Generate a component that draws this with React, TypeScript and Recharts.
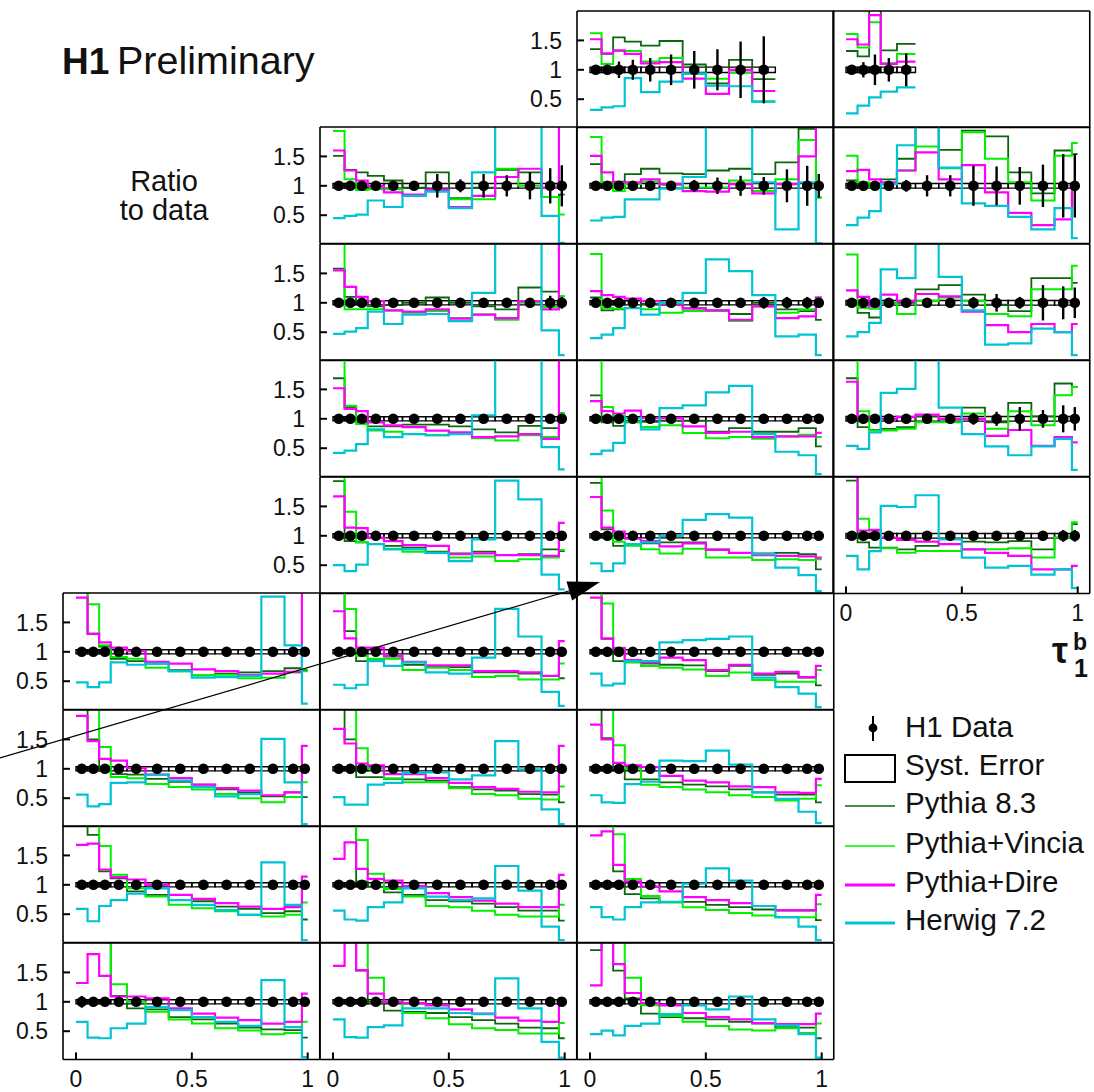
import React from 'react';
import { ComposedChart, Line, Scatter, ErrorBar, XAxis, YAxis, ReferenceArea } from 'recharts';

// tau_1^b binning shared by all panels
const BIN_EDGES = [0, 0.05, 0.1, 0.15, 0.22, 0.3, 0.4, 0.5, 0.6, 0.7, 0.8, 0.9, 0.975, 1];
const X_TICKS = [0, 0.5, 1];
const Y_TICKS = [0.5, 1, 1.5];
const X_TICK_LABELS = ['0', '0.5', '1'];
const Y_TICK_LABELS = ['0.5', '1', '1.5'];
const X_DOMAIN: [number, number] = [-0.056, 1.052];
const Y_DOMAIN: [number, number] = [0.02, 2.0];

// [row, column] of every panel in the grid
const PANEL_CELLS = [
  [0, 2], [0, 3],
  [1, 1], [1, 2], [1, 3],
  [2, 1], [2, 2], [2, 3],
  [3, 1], [3, 2], [3, 3],
  [4, 1], [4, 2], [4, 3],
  [5, 0], [5, 1], [5, 2],
  [6, 0], [6, 1], [6, 2],
  [7, 0], [7, 1], [7, 2],
  [8, 0], [8, 1], [8, 2],
];

// MC / data ratios, one array per panel (same order as PANEL_CELLS)
const PYTHIA8 = [
  [1.35, 1.27, 1.55, 1.48, 1.41, 1.49, 1.09, 0.77, 1.17, 0.84],
  [1.32, 1.23, 2.1, 1.33, 1.44],
  [1.51, 1.27, 1.23, 1.17, 1.09, 0.97, 1.23, 0.79, 0.97, 1.27, 1.23, 0.81, 0.85],
  [1.37, 1.06, 1.07, 1.2, 1.29, 1.21, 1.2, 1.26, 1.29, 1.2, 1.4, 1.97, 0.8],
  [1.09, 1.03, 1.0, 1.11, 1.46, 2.05, 1.61, 1.94, 1.84, 1.23, 0.87, 1.6, 1.54],
  [1.58, 1.1, 1.03, 0.94, 0.96, 1.0, 1.09, 1.0, 0.94, 0.89, 1.26, 1.19, 1.11],
  [1.09, 0.87, 0.89, 0.91, 0.98, 0.97, 0.91, 0.87, 0.81, 1.0, 0.89, 0.86, 0.71],
  [1.0, 0.83, 0.75, 1.0, 1.0, 1.23, 1.3, 1.14, 0.97, 0.86, 1.42, 1.42, 1.34],
  [1.69, 1.2, 0.94, 0.87, 0.87, 0.9, 0.9, 0.87, 0.82, 0.77, 0.88, 0.84, 1.09],
  [1.4, 0.94, 0.88, 0.94, 0.95, 0.97, 0.97, 0.78, 0.84, 0.78, 0.78, 0.84, 0.53],
  [1.69, 0.86, 0.81, 0.83, 0.86, 1.04, 1.0, 1.19, 0.94, 1.27, 1.04, 1.6, 1.54],
  [1.93, 0.91, 0.89, 0.86, 0.83, 0.8, 0.73, 0.7, 0.73, 0.67, 0.69, 0.77, 0.74],
  [1.9, 1.11, 0.83, 0.86, 0.87, 0.89, 0.89, 0.77, 0.71, 0.7, 0.71, 0.69, 0.43],
  [1.94, 0.89, 0.8, 0.8, 0.77, 0.83, 0.86, 0.9, 0.89, 0.91, 0.77, 0.97, 1.2],
  [2.2, 1.3, 1.09, 0.88, 0.84, 0.8, 0.69, 0.6, 0.63, 0.65, 0.67, 0.72, 0.69],
  [2.2, 1.35, 0.84, 0.88, 0.89, 0.78, 0.76, 0.74, 0.65, 0.65, 0.63, 0.59, 0.55],
  [2.2, 1.22, 0.84, 0.84, 0.8, 0.78, 0.77, 0.67, 0.76, 0.61, 0.63, 0.56, 0.43],
  [2.2, 1.5, 0.97, 0.91, 0.9, 0.83, 0.78, 0.73, 0.65, 0.6, 0.53, 0.6, 0.52],
  [2.3, 1.5, 0.86, 0.86, 0.83, 0.82, 0.8, 0.69, 0.65, 0.63, 0.57, 0.56, 0.43],
  [2.2, 1.52, 1.0, 0.82, 0.82, 0.77, 0.73, 0.7, 0.65, 0.6, 0.56, 0.56, 0.43],
  [2.2, 1.85, 1.23, 1.11, 0.89, 0.83, 0.74, 0.72, 0.63, 0.59, 0.52, 0.55, 0.41],
  [2.2, 2.1, 1.06, 0.97, 0.87, 0.83, 0.74, 0.72, 0.68, 0.62, 0.56, 0.56, 0.39],
  [2.2, 2.1, 1.23, 0.84, 0.77, 0.71, 0.71, 0.66, 0.62, 0.58, 0.56, 0.56, 0.4],
  [2.2, 2.2, 2.1, 1.1, 0.89, 0.87, 0.74, 0.7, 0.63, 0.56, 0.53, 0.52, 0.39],
  [2.2, 2.2, 1.53, 1.0, 0.85, 0.83, 0.81, 0.74, 0.69, 0.63, 0.56, 0.55, 0.38],
  [1.88, 2.2, 1.53, 1.06, 0.8, 0.74, 0.72, 0.7, 0.66, 0.63, 0.57, 0.56, 0.38],
];

const VINCIA = [
  [1.62, 1.1, 1.32, 1.32, 1.14, 1.2, 0.93, 0.85, 0.95, 0.46],
  [1.61, 1.38, 1.81, 1.11, 1.27],
  [1.93, 1.11, 0.93, 0.94, 0.94, 0.83, 0.91, 0.77, 0.77, 1.29, 1.0, 0.81, 0.51],
  [1.83, 1.06, 0.91, 1.03, 1.07, 1.02, 0.97, 0.97, 1.09, 0.91, 1.11, 1.78, 0.8],
  [1.51, 1.06, 0.97, 1.03, 1.26, 1.67, 1.3, 1.91, 1.46, 1.06, 0.75, 1.51, 1.73],
  [2.2, 0.89, 0.89, 0.89, 0.87, 0.83, 0.86, 0.74, 0.8, 0.71, 1.0, 0.93, 1.11],
  [1.83, 0.91, 0.9, 0.91, 0.89, 0.83, 0.86, 0.86, 0.69, 0.94, 0.83, 0.89, 1.09],
  [1.82, 0.91, 0.9, 1.0, 0.81, 1.03, 1.09, 1.03, 0.81, 0.77, 1.23, 1.23, 1.63],
  [2.2, 1.22, 0.91, 0.8, 0.78, 0.74, 0.72, 0.74, 0.67, 0.63, 0.72, 0.69, 1.1],
  [2.3, 1.2, 1.05, 0.95, 0.86, 0.89, 0.76, 0.67, 0.69, 0.66, 0.7, 0.73, 0.69],
  [2.3, 1.13, 0.8, 0.8, 0.83, 0.94, 0.94, 1.09, 0.83, 1.13, 0.89, 1.4, 1.54],
  [2.3, 1.41, 0.89, 0.86, 0.78, 0.73, 0.71, 0.63, 0.65, 0.57, 0.6, 0.63, 0.76],
  [2.3, 1.43, 0.9, 0.83, 0.77, 0.7, 0.78, 0.63, 0.63, 0.59, 0.6, 0.59, 0.6],
  [2.3, 1.29, 1.09, 0.79, 0.71, 0.74, 0.74, 0.77, 0.77, 0.79, 0.63, 0.97, 1.23],
  [2.4, 1.81, 1.11, 0.91, 0.88, 0.73, 0.67, 0.6, 0.61, 0.55, 0.56, 0.65, 0.67],
  [2.4, 1.73, 0.93, 0.88, 0.88, 0.69, 0.73, 0.69, 0.57, 0.59, 0.53, 0.53, 0.8],
  [2.4, 1.82, 1.07, 0.82, 0.76, 0.73, 0.7, 0.59, 0.65, 0.52, 0.49, 0.49, 0.69],
  [2.4, 2.3, 1.37, 0.86, 0.84, 0.74, 0.69, 0.65, 0.57, 0.5, 0.43, 0.52, 0.77],
  [2.4, 2.3, 1.35, 1.0, 0.84, 0.77, 0.77, 0.67, 0.57, 0.55, 0.49, 0.48, 0.7],
  [2.4, 2.3, 1.4, 1.0, 0.73, 0.69, 0.65, 0.6, 0.55, 0.52, 0.46, 0.49, 0.72],
  [2.4, 2.2, 1.66, 1.17, 0.94, 0.8, 0.66, 0.6, 0.55, 0.49, 0.46, 0.49, 0.7],
  [2.4, 2.2, 1.76, 1.19, 0.93, 0.8, 0.64, 0.62, 0.56, 0.49, 0.46, 0.46, 0.66],
  [2.4, 2.3, 1.86, 1.1, 0.81, 0.7, 0.62, 0.57, 0.52, 0.48, 0.45, 0.45, 0.67],
  [2.3, 2.3, 2.3, 1.3, 1.0, 0.83, 0.7, 0.63, 0.55, 0.51, 0.45, 0.47, 0.66],
  [2.3, 2.3, 2.3, 1.41, 1.0, 0.81, 0.72, 0.62, 0.55, 0.52, 0.46, 0.46, 0.64],
  [2.3, 2.3, 2.3, 1.41, 0.94, 0.76, 0.66, 0.59, 0.53, 0.51, 0.55, 0.47, 0.63],
];

const DIRE = [
  [1.52, 1.28, 1.33, 1.27, 1.11, 1.13, 0.85, 0.59, 1.0, 0.64],
  [1.52, 1.43, 1.93, 1.1, 1.14],
  [1.6, 1.26, 1.09, 1.0, 0.89, 0.85, 0.93, 0.64, 0.83, 1.15, 1.29, 0.97, 2.5],
  [1.51, 1.23, 1.06, 1.06, 1.11, 1.03, 0.91, 0.9, 1.03, 0.87, 1.03, 1.5, 2.3],
  [1.25, 1.27, 1.11, 1.06, 1.26, 1.57, 1.11, 1.35, 0.89, 0.54, 0.33, 0.43, 0.97],
  [1.55, 1.27, 1.1, 1.03, 0.87, 0.85, 0.89, 0.73, 0.8, 0.74, 1.03, 0.89, 2.4],
  [1.2, 1.13, 1.1, 1.07, 1.03, 0.98, 0.9, 0.87, 0.71, 0.94, 0.74, 0.77, 1.09],
  [1.21, 1.1, 0.94, 1.14, 1.03, 1.15, 1.11, 0.85, 0.62, 0.5, 0.64, 0.5, 0.64],
  [1.52, 1.17, 1.13, 0.94, 0.89, 0.86, 0.8, 0.77, 0.69, 0.7, 0.74, 0.66, 2.4],
  [1.3, 1.13, 1.09, 1.14, 1.01, 1.01, 0.87, 0.76, 0.78, 0.69, 0.7, 0.7, 0.76],
  [1.63, 1.03, 1.03, 1.0, 1.03, 1.07, 1.0, 1.0, 0.71, 0.81, 0.54, 0.69, 0.6],
  [1.67, 1.14, 1.13, 0.97, 0.91, 0.84, 0.83, 0.69, 0.7, 0.67, 0.67, 0.66, 1.22],
  [1.66, 1.14, 1.07, 0.95, 0.91, 0.82, 0.87, 0.76, 0.71, 0.67, 0.66, 0.65, 0.63],
  [2.3, 1.09, 1.1, 0.97, 0.93, 0.9, 0.86, 0.77, 0.71, 0.66, 0.43, 0.43, 0.49],
  [1.92, 1.31, 1.16, 1.07, 1.01, 0.83, 0.8, 0.7, 0.67, 0.61, 0.63, 0.66, 2.4],
  [1.69, 1.23, 1.07, 1.07, 0.93, 0.83, 0.77, 0.77, 0.67, 0.67, 0.65, 0.59, 1.18],
  [1.92, 1.23, 1.06, 0.86, 0.82, 0.9, 0.86, 0.69, 0.78, 0.63, 0.66, 0.57, 0.76],
  [1.9, 1.47, 1.17, 1.14, 1.01, 0.9, 0.84, 0.73, 0.67, 0.63, 0.55, 0.6, 1.39],
  [1.68, 1.43, 1.09, 1.06, 0.91, 0.91, 0.84, 0.76, 0.69, 0.66, 0.61, 0.6, 1.39],
  [1.75, 1.5, 1.1, 1.06, 1.03, 0.88, 0.8, 0.77, 0.7, 0.69, 0.6, 0.59, 0.83],
  [1.68, 1.7, 1.26, 1.13, 1.09, 1.0, 0.83, 0.76, 0.69, 0.63, 0.59, 0.62, 1.14],
  [1.44, 1.72, 1.27, 1.1, 1.07, 0.98, 0.86, 0.79, 0.73, 0.68, 0.62, 0.62, 1.17],
  [1.84, 1.91, 1.34, 1.06, 0.97, 0.89, 0.79, 0.74, 0.69, 0.64, 0.57, 0.57, 0.83],
  [1.32, 1.81, 1.44, 1.09, 1.09, 1.06, 0.89, 0.8, 0.73, 0.69, 0.63, 0.66, 1.14],
  [1.61, 2.2, 1.54, 1.14, 1.0, 0.98, 0.94, 0.87, 0.8, 0.73, 0.68, 0.66, 1.06],
  [1.28, 2.2, 1.64, 1.15, 0.98, 0.94, 0.81, 0.74, 0.7, 0.64, 0.62, 0.62, 0.8],
];

const HERWIG = [
  [0.32, 0.36, 0.38, 0.86, 0.62, 0.8, 0.94, 0.73, 0.72, 0.46],
  [0.26, 0.39, 0.53, 0.63, 0.7],
  [0.45, 0.49, 0.51, 0.75, 0.64, 0.83, 0.9, 0.62, 1.23, 2.6, 2.6, 0.49, 0.03],
  [0.41, 0.46, 0.47, 0.77, 0.77, 0.95, 1.15, 2.4, 2.4, 1.06, 0.26, 1.06, 0.02],
  [0.33, 0.46, 0.57, 1.03, 1.69, 2.3, 1.31, 0.7, 0.66, 0.47, 0.26, 0.62, 0.11],
  [0.47, 0.51, 0.57, 0.85, 0.64, 0.8, 0.81, 0.69, 1.17, 2.4, 2.4, 0.53, 0.11],
  [0.4, 0.46, 0.57, 0.91, 0.8, 1.0, 1.17, 1.74, 1.54, 1.13, 0.43, 0.46, 0.11],
  [0.43, 0.5, 0.66, 1.57, 1.42, 2.3, 1.44, 0.87, 0.29, 0.31, 0.56, 0.5, 0.11],
  [0.42, 0.46, 0.57, 0.82, 0.69, 0.74, 0.72, 0.74, 1.06, 2.4, 2.4, 0.52, 0.14],
  [0.4, 0.46, 0.59, 1.01, 0.82, 1.18, 1.23, 1.45, 1.56, 0.74, 0.44, 0.38, 0.06],
  [0.54, 0.49, 0.77, 1.44, 1.51, 2.1, 1.19, 0.74, 0.53, 0.38, 0.53, 0.66, 0.13],
  [0.5, 0.4, 0.51, 0.86, 0.77, 0.77, 0.71, 0.57, 0.94, 1.94, 1.62, 0.34, 0.09],
  [0.53, 0.4, 0.53, 0.86, 0.89, 1.0, 1.27, 1.37, 1.31, 0.69, 0.46, 0.33, 0.06],
  [0.66, 0.43, 0.74, 1.51, 1.49, 1.69, 0.94, 0.63, 0.46, 0.49, 0.34, 0.43, 0.11],
  [0.48, 0.4, 0.48, 0.82, 0.78, 0.8, 0.67, 0.56, 0.57, 0.59, 1.94, 1.11, 0.12],
  [0.44, 0.38, 0.44, 0.84, 0.76, 0.82, 0.65, 0.63, 0.9, 1.73, 1.26, 0.32, 0.08],
  [0.63, 0.43, 0.46, 0.84, 0.84, 1.16, 1.2, 1.22, 1.26, 0.56, 0.4, 0.29, 0.06],
  [0.56, 0.36, 0.4, 0.76, 0.77, 0.9, 0.8, 0.69, 0.53, 0.57, 1.51, 0.77, 0.06],
  [0.52, 0.39, 0.39, 0.73, 0.76, 0.93, 0.94, 0.82, 0.89, 1.47, 0.99, 0.31, 0.06],
  [0.55, 0.43, 0.42, 0.74, 0.78, 1.14, 1.13, 1.31, 1.07, 0.6, 0.49, 0.27, 0.08],
  [0.59, 0.38, 0.64, 0.74, 0.85, 0.94, 0.74, 0.66, 0.57, 0.49, 1.38, 0.66, 0.06],
  [0.56, 0.41, 0.39, 0.62, 0.7, 0.94, 0.8, 0.74, 0.77, 1.32, 0.9, 0.29, 0.06],
  [0.62, 0.45, 0.41, 0.62, 0.7, 0.71, 1.02, 1.28, 1.07, 0.64, 0.45, 0.29, 0.06],
  [0.66, 0.39, 0.38, 0.55, 0.63, 0.91, 0.86, 0.74, 0.66, 0.59, 1.37, 0.57, 0.06],
  [0.7, 0.4, 0.39, 0.57, 0.6, 0.89, 0.89, 0.81, 0.79, 1.4, 0.89, 0.32, 0.05],
  [0.45, 0.51, 0.43, 0.59, 0.63, 0.79, 0.94, 0.87, 1.09, 0.7, 0.6, 0.45, 0.05],
];

// statistical uncertainty of the data (half length of the error bar)
const STAT_ERR = [
  [0.02, 0.04, 0.14, 0.17, 0.2, 0.26, 0.32, 0.35, 0.48, 0.57],
  [0.03, 0.13, 0.26, 0.2, 0.28],
  [0.02, 0.02, 0.02, 0.03, 0.04, 0.05, 0.2, 0.11, 0.2, 0.18, 0.23, 0.3, 0.35],
  [0.02, 0.02, 0.02, 0.02, 0.03, 0.05, 0.1, 0.14, 0.17, 0.15, 0.28, 0.34, 0.2],
  [0.03, 0.03, 0.03, 0.04, 0.1, 0.18, 0.18, 0.34, 0.33, 0.32, 0.36, 0.54, 0.54],
  [0.02, 0.02, 0.02, 0.02, 0.03, 0.03, 0.04, 0.05, 0.06, 0.07, 0.08, 0.12, 0.1],
  [0.02, 0.02, 0.02, 0.02, 0.03, 0.03, 0.04, 0.05, 0.06, 0.1, 0.1, 0.1, 0.06],
  [0.03, 0.03, 0.03, 0.04, 0.05, 0.05, 0.06, 0.1, 0.15, 0.1, 0.3, 0.28, 0.26],
  [0.02, 0.02, 0.02, 0.02, 0.02, 0.03, 0.03, 0.03, 0.04, 0.04, 0.05, 0.06, 0.05],
  [0.02, 0.02, 0.02, 0.02, 0.02, 0.03, 0.03, 0.03, 0.04, 0.06, 0.06, 0.08, 0.04],
  [0.05, 0.03, 0.03, 0.03, 0.04, 0.04, 0.05, 0.1, 0.12, 0.2, 0.15, 0.23, 0.2],
  [0.02, 0.02, 0.02, 0.02, 0.02, 0.02, 0.02, 0.02, 0.03, 0.03, 0.03, 0.04, 0.03],
  [0.02, 0.02, 0.02, 0.02, 0.02, 0.02, 0.02, 0.02, 0.03, 0.03, 0.04, 0.06, 0.03],
  [0.05, 0.03, 0.03, 0.03, 0.03, 0.03, 0.04, 0.08, 0.06, 0.07, 0.06, 0.1, 0.1],
  [0.03, 0.02, 0.02, 0.02, 0.02, 0.02, 0.02, 0.02, 0.02, 0.02, 0.02, 0.03, 0.03],
  [0.03, 0.02, 0.02, 0.02, 0.02, 0.02, 0.02, 0.02, 0.02, 0.02, 0.02, 0.03, 0.03],
  [0.03, 0.02, 0.02, 0.02, 0.02, 0.02, 0.02, 0.02, 0.02, 0.02, 0.02, 0.03, 0.03],
  [0.03, 0.02, 0.02, 0.02, 0.02, 0.02, 0.02, 0.02, 0.02, 0.02, 0.02, 0.03, 0.03],
  [0.03, 0.02, 0.02, 0.02, 0.02, 0.02, 0.02, 0.02, 0.02, 0.02, 0.02, 0.03, 0.03],
  [0.03, 0.02, 0.02, 0.02, 0.02, 0.02, 0.02, 0.02, 0.02, 0.02, 0.02, 0.03, 0.03],
  [0.04, 0.02, 0.02, 0.02, 0.02, 0.02, 0.02, 0.02, 0.02, 0.02, 0.02, 0.03, 0.03],
  [0.04, 0.02, 0.02, 0.02, 0.02, 0.02, 0.02, 0.02, 0.02, 0.02, 0.02, 0.03, 0.03],
  [0.06, 0.02, 0.02, 0.02, 0.02, 0.02, 0.02, 0.02, 0.02, 0.02, 0.02, 0.03, 0.03],
  [0.1, 0.03, 0.02, 0.02, 0.02, 0.02, 0.02, 0.02, 0.02, 0.02, 0.02, 0.03, 0.03],
  [0.05, 0.02, 0.02, 0.02, 0.02, 0.02, 0.02, 0.02, 0.02, 0.02, 0.02, 0.03, 0.03],
  [0.07, 0.02, 0.02, 0.02, 0.02, 0.02, 0.02, 0.02, 0.02, 0.02, 0.02, 0.03, 0.03],
];

// half height of the systematic-error box, per panel
const SYST_ERR = [
  0.045, 0.045, 0.04, 0.04, 0.04, 0.035, 0.035, 0.04, 0.035, 0.035, 0.04, 0.035, 0.035,
  0.04, 0.035, 0.035, 0.035, 0.035, 0.035, 0.035, 0.035, 0.035, 0.035, 0.035, 0.035, 0.035,
];

const SERIES = [
  { key: 'p8', name: 'Pythia 8.3', color: '#0c660c', width: 1.8, values: PYTHIA8 },
  { key: 'vin', name: 'Pythia+Vincia', color: '#00f000', width: 2, values: VINCIA },
  { key: 'dire', name: 'Pythia+Dire', color: '#ff00ff', width: 2.2, values: DIRE },
  { key: 'hw', name: 'Herwig 7.2', color: '#00c4d4', width: 2.2, values: HERWIG },
];

const FONT = '"Liberation Sans", Arial, Helvetica, sans-serif';

// panel geometry
const PW = 256.75;
const PH = 116.44;
const GRID_X = 63;
const GRID_Y = 11;
const ML = 60;
const MR = 4;
const MT = 4;
const MB = 40;

const AXIS_LINE = { stroke: '#000', strokeWidth: 1.6 };
const TICK_LINE = { stroke: '#000', strokeWidth: 2 };

const DataDot = (p: any) => <circle cx={p.cx} cy={p.cy} r={5.3} fill="#000" />;

function RatioPanel({ index }: { index: number }) {
  const [row, col] = PANEL_CELLS[index];
  const nBins = PYTHIA8[index].length;
  const edges = BIN_EDGES.slice(0, nBins + 1);

  const steps = edges.map((x, i) => {
    const k = Math.min(i, nBins - 1);
    const pt: Record<string, number> = { x };
    SERIES.forEach((s) => {
      pt[s.key] = s.values[index][k];
    });
    return pt;
  });

  const points = edges.slice(0, nBins).map((lo, i) => ({
    x: (lo + edges[i + 1]) / 2,
    y: 1,
    err: STAT_ERR[index][i],
  }));
  const syst = SYST_ERR[index];

  const showY = col === (row === 0 ? 2 : row <= 4 ? 1 : 0);
  const showX = row === (col === 3 ? 4 : 8);

  const yLabel = (p: any) => (
    <text x={ML - 15} y={p.y} dy="0.36em" textAnchor="end" fontSize={23} fontFamily={FONT} fill="#111">
      {Y_TICK_LABELS[Y_TICKS.indexOf(p.payload.value)]}
    </text>
  );
  const xLabel = (p: any) => (
    <text x={p.x} y={MT + PH + 28} textAnchor="middle" fontSize={23} fontFamily={FONT} fill="#111">
      {X_TICK_LABELS[X_TICKS.indexOf(p.payload.value)]}
    </text>
  );

  return (
    <div style={{ position: 'absolute', left: GRID_X + col * PW - ML, top: GRID_Y + row * PH - MT }}>
      <ComposedChart
        width={ML + PW + MR}
        height={MT + PH + MB}
        margin={{ top: MT, right: MR, bottom: MB, left: ML }}
      >
        <XAxis
          xAxisId="b"
          dataKey="x"
          type="number"
          orientation="bottom"
          mirror
          domain={X_DOMAIN}
          allowDataOverflow
          ticks={X_TICKS}
          tickSize={7}
          tickMargin={0}
          axisLine={AXIS_LINE}
          tickLine={TICK_LINE}
          tick={showX ? xLabel : false}
        />
        <XAxis
          xAxisId="t"
          dataKey="x"
          type="number"
          orientation="top"
          mirror
          domain={X_DOMAIN}
          allowDataOverflow
          ticks={X_TICKS}
          tickSize={7}
          axisLine={AXIS_LINE}
          tickLine={TICK_LINE}
          tick={false}
        />
        <YAxis
          yAxisId="l"
          dataKey="y"
          type="number"
          orientation="left"
          mirror
          domain={Y_DOMAIN}
          allowDataOverflow
          ticks={Y_TICKS}
          tickSize={7}
          tickMargin={0}
          axisLine={AXIS_LINE}
          tickLine={TICK_LINE}
          tick={showY ? yLabel : false}
        />
        <YAxis
          yAxisId="r"
          dataKey="y"
          type="number"
          orientation="right"
          mirror
          domain={Y_DOMAIN}
          allowDataOverflow
          ticks={Y_TICKS}
          tickSize={7}
          axisLine={AXIS_LINE}
          tickLine={TICK_LINE}
          tick={false}
        />
        {edges.slice(0, nBins).map((lo, i) => (
          <ReferenceArea
            key={`syst-${i}`}
            xAxisId="b"
            yAxisId="l"
            x1={lo}
            x2={edges[i + 1]}
            y1={1 - syst}
            y2={1 + syst}
            fill="#fff"
            fillOpacity={0}
            stroke="#000"
            strokeWidth={1.4}
          />
        ))}
        {SERIES.map((s) => (
          <Line
            key={s.key}
            xAxisId="b"
            yAxisId="l"
            data={steps}
            dataKey={s.key}
            name={s.name}
            type="stepAfter"
            stroke={s.color}
            strokeWidth={s.width}
            dot={false}
            activeDot={false}
            isAnimationActive={false}
          />
        ))}
        <Scatter xAxisId="b" yAxisId="l" data={points} fill="#000" shape={DataDot} isAnimationActive={false}>
          <ErrorBar dataKey="err" direction="y" width={0} stroke="#000" strokeWidth={2.4} />
        </Scatter>
      </ComposedChart>
    </div>
  );
}

function Annotations() {
  const legendBaselines = [737, 775, 813, 853, 892, 930];
  return (
    <svg
      width={1094}
      height={1092}
      style={{ position: 'absolute', left: 0, top: 0, pointerEvents: 'none' }}
      fontFamily={FONT}
    >
      {/* title */}
      <text x={62} y={74} fontSize={37} fontWeight="bold" fill="#111">H1</text>
      <text x={117} y={74} fontSize={39.5} fill="#111">Preliminary</text>
      <text x={164} y={191} fontSize={29} textAnchor="middle" fill="#111">Ratio</text>
      <text x={164} y={220} fontSize={29} textAnchor="middle" fill="#111">to data</text>

      {/* x-axis variable */}
      <text x={1052} y={663} fontSize={36} fontWeight="bold" fill="#111">τ</text>
      <text x={1073} y={650} fontSize={23} fontWeight="bold" fill="#111">b</text>
      <text x={1074} y={677} fontSize={25} fontWeight="bold" fill="#111">1</text>

      {/* legend */}
      <line x1={873} x2={873} y1={716} y2={741} stroke="#000" strokeWidth={2} />
      <circle cx={873} cy={728} r={4.4} fill="#000" />
      <rect x={845} y={755} width={50} height={27} fill="none" stroke="#000" strokeWidth={2} />
      {SERIES.map((s, i) => (
        <line
          key={s.key}
          x1={845}
          x2={895}
          y1={legendBaselines[i + 2] - 7}
          y2={legendBaselines[i + 2] - 7}
          stroke={s.color}
          strokeWidth={s.key === 'dire' || s.key === 'hw' ? 3 : 1.6}
        />
      ))}
      {['H1 Data', 'Syst. Error', ...SERIES.map((s) => s.name)].map((label, i) => (
        <text key={label} x={905} y={legendBaselines[i]} fontSize={29.5} fill="#111">
          {label}
        </text>
      ))}

      {/* pointer from the lower block to the upper block */}
      <line x1={0} y1={758} x2={572} y2={590} stroke="#000" strokeWidth={1.2} />
      <polygon points="600,582 572.1,600.6 566.5,581.4" fill="#000" />
    </svg>
  );
}

export default function App() {
  return (
    <div
      style={{
        position: 'absolute',
        left: 0,
        top: 0,
        width: 1094,
        height: 1092,
        background: '#fff',
        fontFamily: FONT,
        overflow: 'hidden',
      }}
    >
      {PANEL_CELLS.map((_, i) => (
        <RatioPanel key={i} index={i} />
      ))}
      <Annotations />
    </div>
  );
}
